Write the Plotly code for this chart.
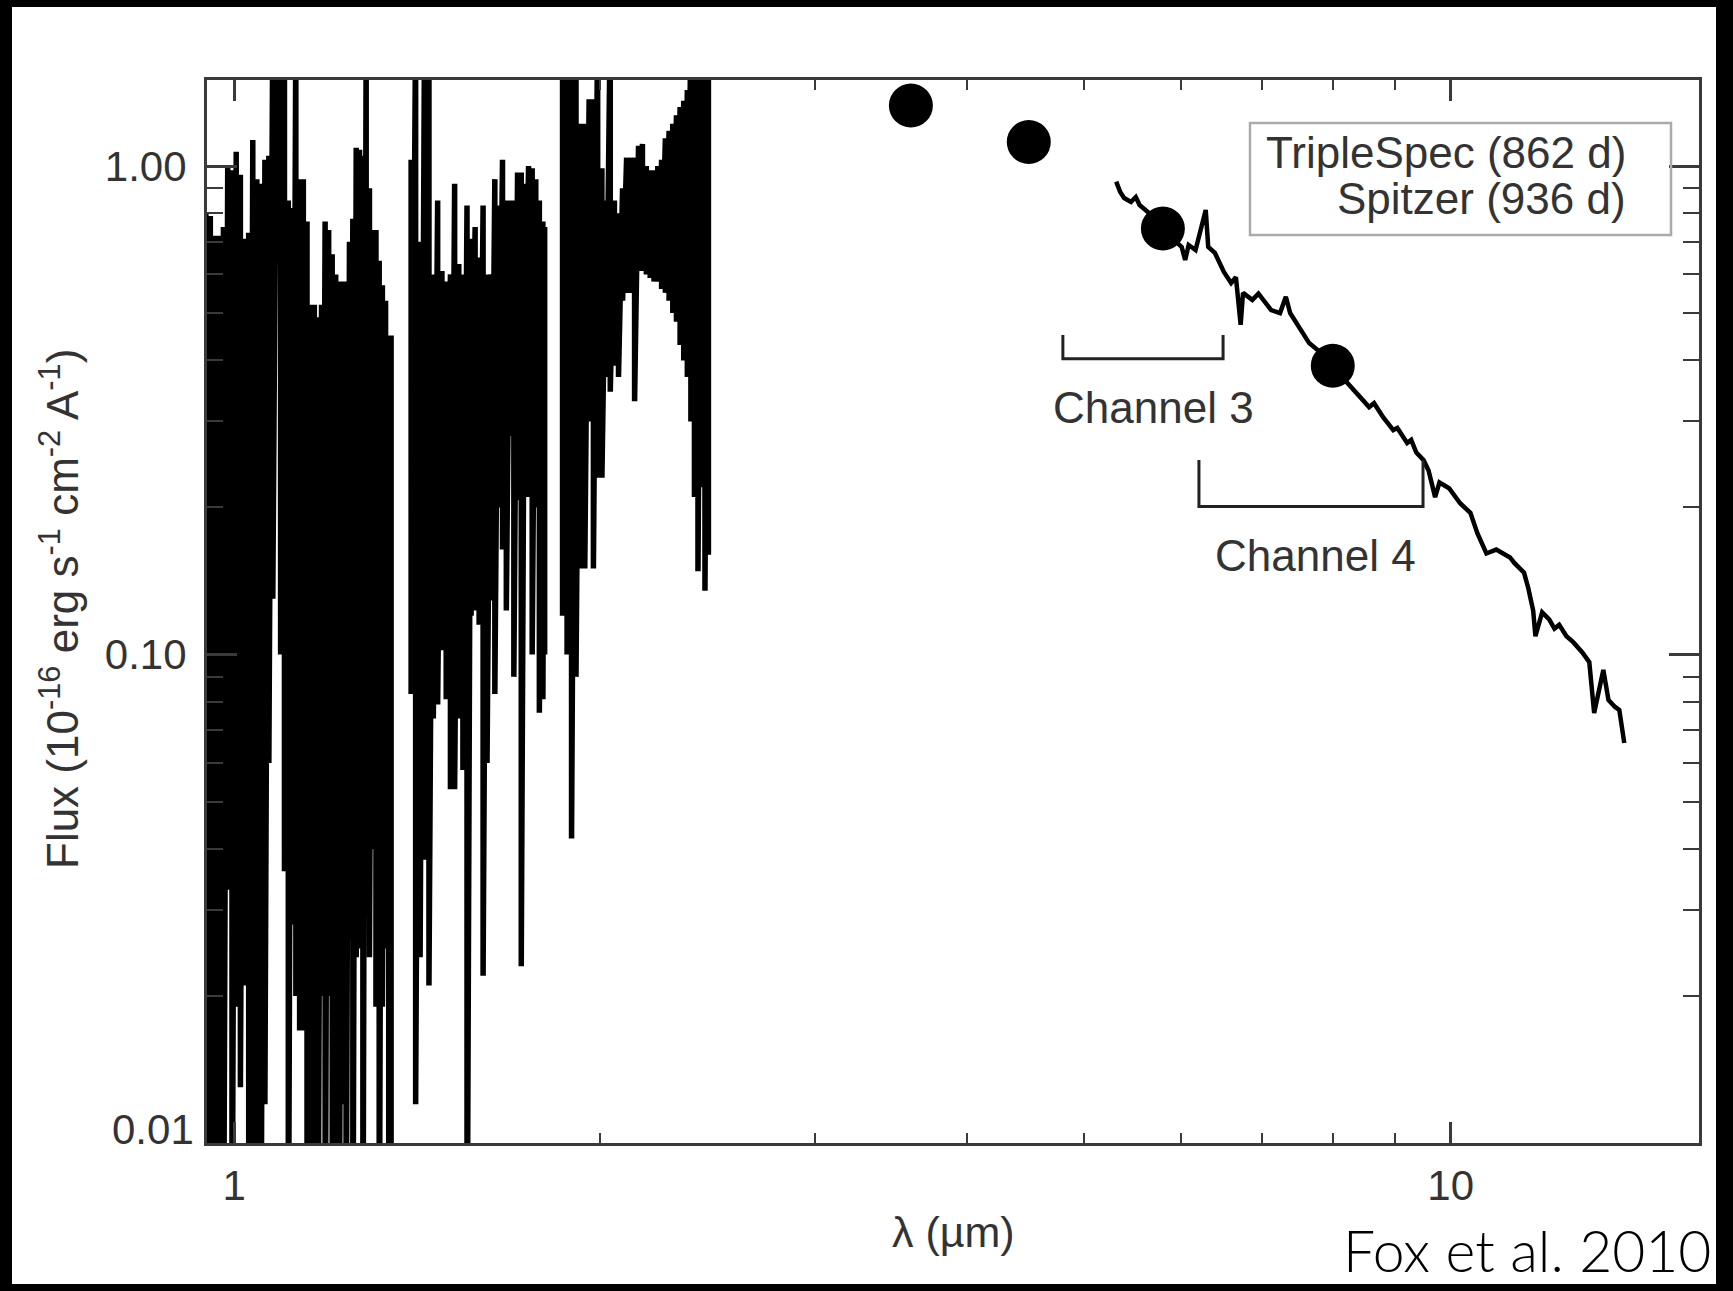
import math
import plotly.graph_objects as go

# ---------------- TripleSpec (862 d) near-IR spectrum ----------------
# Each resolution element is stored as its wavelength (um) with the
# upper and lower flux excursion of the noisy spectrum (1e-16 erg/s/cm2/A).
j_wave = [0.940, 0.948, 0.956, 0.964, 0.972, 0.980, 0.988, 0.996, 1.004, 1.012,
          1.020, 1.028, 1.036, 1.044, 1.052, 1.060, 1.068, 1.076, 1.084, 1.092,
          1.100, 1.108, 1.116, 1.124, 1.132, 1.140, 1.148, 1.156, 1.164, 1.172,
          1.180, 1.188, 1.196, 1.204, 1.212, 1.220, 1.228, 1.236, 1.244, 1.252,
          1.260, 1.268, 1.276, 1.284, 1.292, 1.300, 1.308, 1.316, 1.324, 1.332,
          1.340, 1.346]
j_upper = [0.80, 0.80, 0.79, 0.72, 0.72, 0.75, 1.00, 0.98, 1.07, 0.96,
           0.71, 0.73, 1.13, 0.94, 0.92, 1.03, 1.05, 2.0, 2.0, 2.0,
           2.0, 0.85, 0.82, 2.0, 0.94, 0.94, 0.77, 0.52, 0.52, 0.49,
           0.52, 0.77, 0.74, 0.66, 0.60, 0.58, 0.58, 0.58, 0.70, 0.78,
           1.09, 1.08, 1.05, 2.0, 0.90, 0.74, 0.74, 0.64, 0.57, 0.53,
           0.45, 0.45]
j_lower = [0.004, 0.004, 0.004, 0.004, 0.004, 0.004, 0.033, 0.004, 0.019, 0.013,
           0.021, 0.004, 0.004, 0.004, 0.004, 0.012, 0.06, 0.13, 0.72, 0.10,
           0.036, 0.004, 0.028, 0.02, 0.017, 0.017, 0.004, 0.004, 0.004, 0.004,
           0.02, 0.004, 0.02, 0.004, 0.004, 0.004, 0.012, 0.004, 0.026, 0.004,
           0.024, 0.025, 0.004, 0.03, 0.024, 0.04, 0.019, 0.004, 0.019, 0.025,
           0.004, 0.004]

h_wave = [1.398, 1.410, 1.422, 1.434, 1.446, 1.458, 1.470, 1.482, 1.494, 1.506,
          1.518, 1.530, 1.542, 1.554, 1.566, 1.578, 1.590, 1.602, 1.614, 1.626,
          1.638, 1.650, 1.662, 1.674, 1.686, 1.698, 1.710, 1.722, 1.734, 1.746,
          1.758, 1.770, 1.782, 1.794, 1.800]
h_upper = [1.03, 2.0, 0.70, 2.0, 2.0, 0.60, 0.85, 0.61, 0.58, 0.60,
           0.92, 0.63, 0.60, 0.83, 0.71, 0.75, 0.65, 0.83, 0.60, 0.60,
           0.94, 0.83, 1.03, 0.85, 0.85, 0.85, 0.97, 0.97, 0.92, 1.0,
           0.99, 0.94, 0.85, 0.77, 0.75]
h_lower = [0.083, 0.012, 0.024, 0.038, 0.021, 0.074, 0.079, 0.102, 0.081, 0.053,
           0.053, 0.074, 0.058, 0.004, 0.12, 0.123, 0.115, 0.022, 0.06, 0.129,
           0.083, 0.2, 0.164, 0.123, 0.28, 0.09, 0.207, 0.023, 0.36, 0.21,
           0.10, 0.2, 0.076, 0.081, 0.1]

k_wave = [1.862, 1.878, 1.894, 1.910, 1.926, 1.942, 1.958, 1.974, 1.990, 2.006,
          2.022, 2.038, 2.054, 2.070, 2.086, 2.102, 2.118, 2.134, 2.150, 2.166,
          2.182, 2.198, 2.214, 2.230, 2.246, 2.262, 2.278, 2.294, 2.310, 2.326,
          2.342, 2.358, 2.374, 2.390, 2.406, 2.422, 2.438, 2.454]
k_upper = [2.0, 2.0, 2.0, 2.0, 1.22, 1.22, 1.37, 1.37, 2.0, 0.99,
           0.85, 2.0, 0.85, 0.80, 0.90, 1.04, 1.04, 1.04, 1.10, 1.11,
           1.0, 0.98, 0.98, 1.0, 1.03, 1.14, 1.18, 1.22, 1.27, 1.32,
           1.36, 1.43, 2.0, 2.0, 2.0, 2.0, 2.0, 2.0]
k_lower = [0.12, 0.10, 0.042, 0.09, 0.15, 0.15, 0.3, 0.15, 0.23, 0.23,
           0.37, 0.345, 0.39, 0.37, 0.53, 0.55, 0.55, 0.33, 0.61, 0.61,
           0.60, 0.59, 0.58, 0.58, 0.56, 0.55, 0.53, 0.50, 0.48, 0.43,
           0.40, 0.37, 0.30, 0.21, 0.148, 0.22, 0.135, 0.16]

# ---------------- Spitzer IRS spectrum (936 d) ----------------
irs_wave = [5.31, 5.35, 5.39, 5.46, 5.51, 5.55, 5.66, 5.78, 5.90, 6.01, 6.05,
            6.09, 6.17, 6.29, 6.32, 6.40, 6.51, 6.60, 6.66, 6.72, 6.75,
            6.87, 6.95, 7.03, 7.12, 7.24, 7.32, 7.38, 7.51, 7.65, 7.81, 7.99,
            8.18, 8.35, 8.57, 8.65, 8.80, 8.97, 9.04, 9.21, 9.28, 9.37,
            9.50, 9.59, 9.71, 9.79, 9.97, 10.18, 10.38, 10.52, 10.70, 10.90,
            11.05, 11.19, 11.28, 11.49, 11.58, 11.69, 11.74, 11.89, 12.05, 12.17,
            12.28, 12.45, 12.61, 12.83, 13.00, 13.12, 13.35, 13.48, 13.65, 13.76,
            13.89]
irs_flux = [0.929, 0.885, 0.860, 0.844, 0.864, 0.832, 0.798, 0.750, 0.712, 0.683, 0.642,
            0.689, 0.673, 0.813, 0.683, 0.664, 0.607, 0.576, 0.592, 0.473, 0.550,
            0.532, 0.548, 0.527, 0.507, 0.500, 0.540, 0.500, 0.468, 0.434, 0.416, 0.392,
            0.365, 0.345, 0.321, 0.327, 0.306, 0.288, 0.291, 0.271, 0.275, 0.259,
            0.250, 0.238, 0.210, 0.225, 0.219, 0.204, 0.195, 0.177, 0.161, 0.164,
            0.161, 0.158, 0.154, 0.147, 0.137, 0.123, 0.109, 0.122, 0.118, 0.113,
            0.115, 0.109, 0.106, 0.101, 0.0965, 0.0759, 0.0930, 0.0807, 0.0781, 0.0770,
            0.0659]

# ---------------- Spitzer IRAC photometry (936 d) ----------------
irac_wave = [3.6, 4.5, 5.8, 8.0]
irac_flux = [1.33, 1.12, 0.745, 0.39]

# ---------------- IRAC channel bandpasses ----------------
channel_names = ["Channel 3", "Channel 4"]
channel_start = [4.80, 6.21]
channel_end = [6.50, 9.49]

# ---------------- Axis ticks ----------------
x_tickvals = [1, 10]
x_ticktext = ["1", "10"]
x_minor = [2, 3, 4, 5, 6, 7, 8, 9]
y_tickvals = [0.1, 1.0]
y_ticktext = ["0.10", "1.00"]
y_minor = [0.02, 0.03, 0.04, 0.05, 0.06, 0.07, 0.08, 0.09,
           0.2, 0.3, 0.4, 0.5, 0.6, 0.7, 0.8, 0.9]

# ---------------------------------------------------------------
FONT = "Liberation Sans, Arial, Helvetica, sans-serif"
TEXT = "#333333"
AXIS = "#3a3a3a"

W, H = 1733, 1291
ML, MR, MT, MB = 207, 34, 80, 148
PW, PH = W - ML - MR, H - MT - MB


def px(xpix):
    """Pixel column -> paper x."""
    return (xpix - ML) / PW


def py(ypix):
    """Pixel row -> paper y."""
    return (H - MB - ypix) / PH


def comb(wave, upper, lower):
    xs, ys = [], []
    for w, hi, lo in zip(wave, upper, lower):
        xs += [w, w]
        ys += [hi, lo]
    return xs, ys


fig = go.Figure()

for wave, upper, lower in [(j_wave, j_upper, j_lower),
                           (h_wave, h_upper, h_lower),
                           (k_wave, k_upper, k_lower)]:
    xs, ys = comb(wave, upper, lower)
    fig.add_trace(go.Scatter(x=xs, y=ys, mode="lines",
                             line=dict(color="black", width=5.5),
                             showlegend=False, hoverinfo="skip"))

fig.add_trace(go.Scatter(x=irs_wave, y=irs_flux, mode="lines",
                         line=dict(color="black", width=4.5),
                         showlegend=False, hoverinfo="skip"))

fig.add_trace(go.Scatter(x=irac_wave, y=irac_flux, mode="markers",
                         marker=dict(color="black", size=44, line=dict(width=0)),
                         showlegend=False, hoverinfo="skip"))

# bandpass brackets
bracket_levels = [(0.451, 0.403), (0.250, 0.201)]
for x0, x1, (top, base) in zip(channel_start, channel_end, bracket_levels):
    fig.add_trace(go.Scatter(x=[x0, x0, x1, x1], y=[top, base, base, top],
                             mode="lines", line=dict(color="#222222", width=3),
                             showlegend=False, hoverinfo="skip"))

tickfont = dict(family=FONT, size=42, color=TEXT)

fig.update_xaxes(
    type="log", range=[math.log10(0.95), math.log10(16)],
    showline=True, linecolor=AXIS, linewidth=3, mirror="ticks",
    ticks="inside", ticklen=21, tickwidth=2.5, tickcolor=AXIS,
    tickvals=x_tickvals, ticktext=x_ticktext, tickfont=tickfont,
    ticklabelstandoff=4,
    minor=dict(tickvals=x_minor, ticks="inside", ticklen=10, tickwidth=2.2,
               tickcolor=AXIS, showgrid=False),
    showgrid=False, zeroline=False,
)
fig.update_yaxes(
    type="log", range=[-2, math.log10(1.5)],
    showline=True, linecolor=AXIS, linewidth=3, mirror="ticks",
    ticks="inside", ticklen=30, tickwidth=2.5, tickcolor=AXIS,
    tickvals=y_tickvals, ticktext=y_ticktext, tickfont=tickfont,
    ticklabelstandoff=9,
    minor=dict(tickvals=y_minor, ticks="inside", ticklen=16, tickwidth=2.2,
               tickcolor=AXIS, showgrid=False),
    showgrid=False, zeroline=False,
)

shapes = [
    # white page inside the dark frame
    dict(type="rect", xref="paper", yref="paper",
         x0=px(12), x1=px(1716), y0=py(1284), y1=py(7),
         fillcolor="white", line=dict(width=0), layer="below"),
    # legend box
    dict(type="rect", xref="paper", yref="paper",
         x0=px(1250), x1=px(1671), y0=py(235), y1=py(123),
         fillcolor="rgba(0,0,0,0)", line=dict(color="#aaaaaa", width=2.5)),
]

ann_font = dict(family=FONT, size=44, color=TEXT)
annotations = [
    dict(text="Flux (10<sup>-16</sup> erg s<sup>-1</sup> cm<sup>-2</sup> A<sup>-1</sup>)",
         x=px(59), y=py(609), textangle=-90,
         font=dict(family=FONT, size=44, color=TEXT)),
    dict(text="λ (µm)", x=px(953), y=py(1232), font=dict(family=FONT, size=43, color=TEXT)),
    dict(text="0.01", x=0, xshift=-11, xanchor="right", y=py(1129), font=tickfont),
    dict(text="TripleSpec (862 d)", x=px(1628), xanchor="right", y=py(152), font=ann_font),
    dict(text="Spitzer (936 d)", x=px(1628), xanchor="right", y=py(198), font=ann_font),
    dict(text=channel_names[0], x=px(1153), y=py(407), font=ann_font),
    dict(text=channel_names[1], x=px(1315), y=py(555), font=ann_font),
    dict(text="Fox et al. 2010", x=px(1713), xanchor="right", y=py(1250),
         font=dict(family="Lato", size=57, color="black", weight=300)),
]
for a in annotations:
    a.setdefault("xanchor", "center")
    a.update(xref="paper", yref="paper", yanchor="middle", showarrow=False)

fig.update_layout(
    width=W, height=H, autosize=False,
    margin=dict(l=ML, r=MR, t=MT, b=MB, pad=0),
    paper_bgcolor="black", plot_bgcolor="white",
    shapes=shapes, annotations=annotations,
    showlegend=False,
)

fig.write_html("out.html", include_plotlyjs=True, config={"displayModeBar": False})
